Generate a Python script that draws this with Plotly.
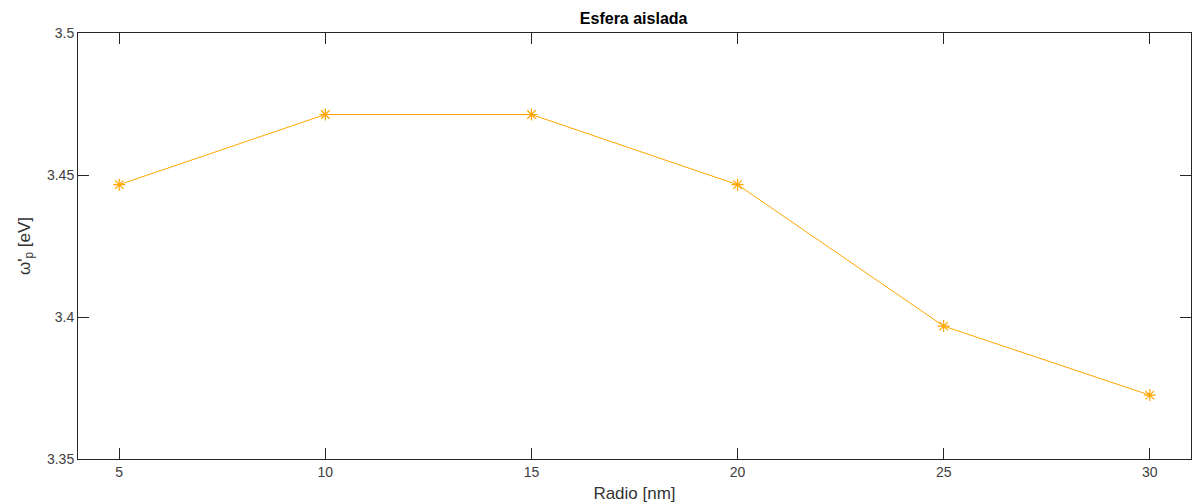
import plotly.graph_objects as go

radio = [5, 10, 15, 20, 25, 30]
omega = [3.4466, 3.4713, 3.4713, 3.4466, 3.3968, 3.3725]
x_ticks = [5, 10, 15, 20, 25, 30]
y_ticks = [3.35, 3.4, 3.45, 3.5]
y_tick_text = ["3.35", "3.4", "3.45", "3.5"]

orange = "#FFA500"
axis_col = "#262626"
fam = "Liberation Sans, Arial, sans-serif"
tick_font = dict(family=fam, size=14, color="#404040")

fig = go.Figure()
fig.add_trace(go.Scatter(
    x=radio, y=omega, mode="lines+markers",
    line=dict(color=orange, width=1),
    marker=dict(symbol="asterisk-open", size=10, color=orange,
                line=dict(color=orange, width=1.2)),
    showlegend=False,
))

fig.update_layout(
    width=1192, height=504,
    margin=dict(l=78, r=1, t=33, b=45),
    paper_bgcolor="white", plot_bgcolor="white",
    title=dict(text="<b>Esfera aislada</b>", x=0.5316, xanchor="center",
               y=1 - 18 / 504, yanchor="middle",
               font=dict(family=fam, size=16, color="black")),
    xaxis=dict(
        range=[4, 31], tickvals=x_ticks, ticks="inside", ticklen=11,
        tickcolor=axis_col, showline=True, linecolor=axis_col, linewidth=1,
        mirror="ticks", showgrid=False, zeroline=False, tickfont=tick_font,
        title=dict(text="Radio [nm]", standoff=8,
                   font=dict(family=fam, size=17, color="#333333")),
    ),
    yaxis=dict(
        range=[3.35, 3.5], tickvals=y_ticks, ticktext=y_tick_text, ticks="inside",
        ticklen=11, tickcolor=axis_col, showline=True, linecolor=axis_col, linewidth=1,
        mirror="ticks", showgrid=False, zeroline=False, tickfont=tick_font,
        title=dict(text="ω'<sub>p</sub> [eV]", standoff=12,
                   font=dict(family=fam, size=17, color="#333333")),
    ),
)

fig.write_html("out.html")
